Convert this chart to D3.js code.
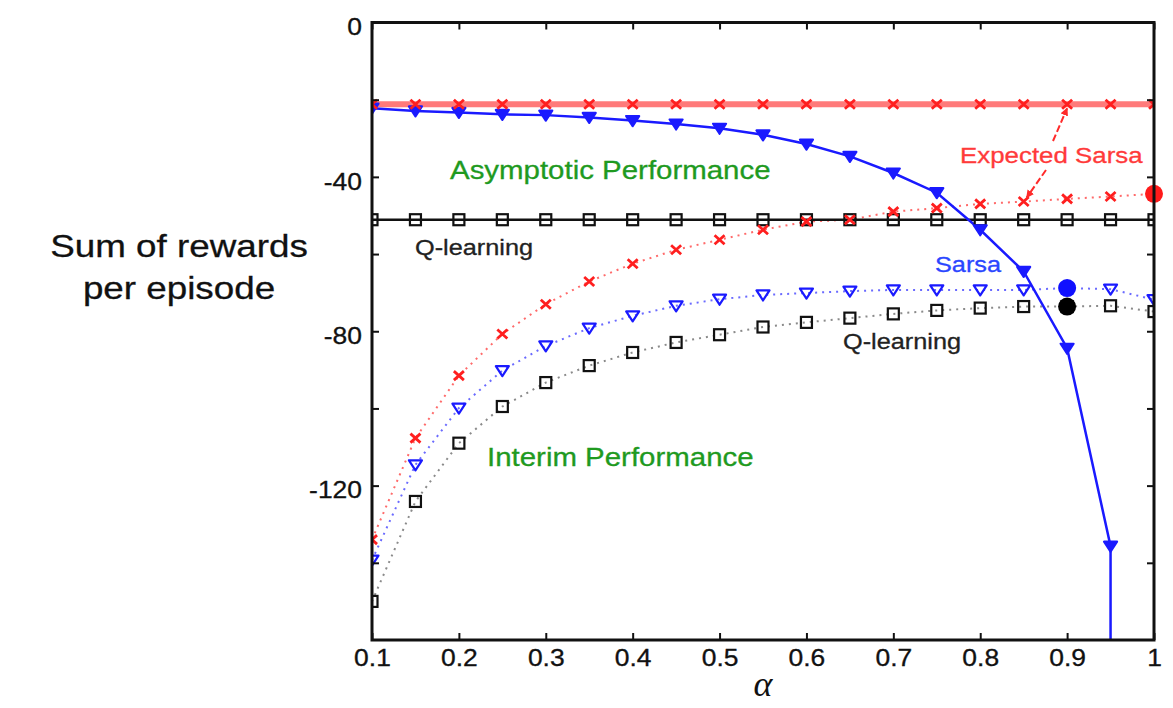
<!DOCTYPE html>
<html>
<head>
<meta charset="utf-8">
<script src="https://cdn.jsdelivr.net/npm/d3@7"></script>
<style>
  html, body { margin: 0; padding: 0; background: #fff; }
  svg { display: block; font-family: "Liberation Sans", Arial, Helvetica, sans-serif; }
</style>
</head>
<body>
<script>
(function () {

  // step sizes (alpha)
  let alphas = [0.1, 0.15, 0.2, 0.25, 0.3, 0.35, 0.4, 0.45, 0.5, 0.55,
                0.6, 0.65, 0.7, 0.75, 0.8, 0.85, 0.9, 0.95, 1.0];

  // asymptotic performance (solid lines)
  let expSarsaAsym = [-21.2, -21.2, -21.2, -21.2, -21.2, -21.2, -21.2, -21.2, -21.2, -21.2,
                      -21.2, -21.2, -21.2, -21.2, -21.2, -21.2, -21.2, -21.2, -21.2];
  let sarsaAsym    = [-22.2, -22.9, -23.3, -23.8, -24.0, -24.6, -25.4, -26.3, -27.4, -29.1,
                      -31.5, -34.7, -39.0, -44.1, -53.7, -64.5, -84.4, -135.7];
  let qAsym        = [-51.1, -51.1, -51.1, -51.1, -51.1, -51.1, -51.1, -51.1, -51.1, -51.1,
                      -51.1, -51.1, -51.1, -51.1, -51.1, -51.1, -51.1, -51.1, -51.1];

  // interim performance (dotted lines)
  let expSarsaInt = [-134.0, -107.7, -91.5, -80.7, -73.0, -67.1, -62.5, -58.9, -56.3, -53.7,
                     -51.6, -51.1, -49.0, -48.1, -47.0, -46.4, -45.7, -45.1, -44.4];
  let sarsaInt    = [-139.3, -114.6, -99.9, -90.2, -83.8, -79.2, -76.0, -73.4, -71.7, -70.6,
                     -70.1, -69.6, -69.3, -69.3, -69.3, -69.3, -68.8, -69.1, -71.8];
  let qInt        = [-150.0, -124.1, -109.0, -99.5, -93.3, -88.9, -85.5, -82.9, -80.9, -78.9,
                     -77.7, -76.6, -75.5, -74.6, -74.0, -73.6, -73.6, -73.4, -74.9];

  // highlighted points (filled circles)
  let highlights = [
    { alpha: 1.0, value: -44.4, color: '#ff1a1a' },
    { alpha: 0.9, value: -68.8, color: '#1010ff' },
    { alpha: 0.9, value: -73.6, color: '#000000' }
  ];

  let xTicks = [0.1, 0.2, 0.3, 0.4, 0.5, 0.6, 0.7, 0.8, 0.9, 1.0];
  let xTickLabels = ['0.1', '0.2', '0.3', '0.4', '0.5', '0.6', '0.7', '0.8', '0.9', '1'];
  let yTicks = [-140, -120, -100, -80, -60, -40, -20, 0];
  let yTickLabels = { '-120': '-120', '-80': '-80', '-40': '-40', '0': '0' };

  let width = 1173, height = 708;
  let plot = { left: 372, right: 1154, top: 22.5, bottom: 640 };
  let sx = 1.15; // text in the original is stretched horizontally

  let x = d3.scaleLinear().domain([0.1, 1.0]).range([plot.left, plot.right]);
  let y = d3.scaleLinear().domain([-160, 0]).range([plot.bottom, plot.top]);

  let svg = d3.select('body').append('svg')
      .attr('width', width)
      .attr('height', height);

  let defs = svg.append('defs');
  defs.append('clipPath').attr('id', 'plotclip')
    .append('rect')
      .attr('x', plot.left).attr('y', plot.top)
      .attr('width', plot.right - plot.left)
      .attr('height', plot.bottom - plot.top);

  defs.append('marker')
      .attr('id', 'arrowhead')
      .attr('viewBox', '0 0 10 10')
      .attr('refX', 9).attr('refY', 5)
      .attr('markerWidth', 4).attr('markerHeight', 4)
      .attr('orient', 'auto')
    .append('path')
      .attr('d', 'M0,0 L10,5 L0,10 Z')
      .attr('fill', '#ff2a2a');

  function label(text, px, py, size, color, anchor) {
    svg.append('text')
      .attr('transform', 'translate(' + px + ',' + py + ') scale(' + sx + ',1)')
      .attr('text-anchor', anchor || 'start')
      .attr('font-size', size)
      .attr('fill', color)
      .attr('stroke', color)
      .attr('stroke-width', 0.3)
      .text(text);
  }

  function series(values) {
    return values.map(function (v, i) { return { a: alphas[i], v: v }; });
  }

  let line = d3.line()
      .x(function (d) { return x(d.a); })
      .y(function (d) { return y(d.v); });

  let g = svg.append('g').attr('clip-path', 'url(#plotclip)');

  // dotted interim curves
  function dotted(values, color) {
    g.append('path')
      .datum(series(values))
      .attr('d', line)
      .attr('fill', 'none')
      .attr('stroke', color)
      .attr('stroke-width', 2)
      .attr('stroke-dasharray', '2,5');
  }
  dotted(qInt, '#8a8a8a');
  dotted(sarsaInt, '#6a6aff');
  dotted(expSarsaInt, '#ff6a6a');

  // solid asymptotic curves
  g.append('path')
    .datum(series(qAsym))
    .attr('d', line)
    .attr('fill', 'none').attr('stroke', '#111').attr('stroke-width', 2.5);

  g.append('path')
    .datum(series(expSarsaAsym))
    .attr('d', line)
    .attr('fill', 'none').attr('stroke', '#ff7a7a').attr('stroke-width', 6);

  let sarsaPts = series(sarsaAsym);
  let lastSarsa = sarsaPts[sarsaPts.length - 1];
  g.append('path')
    .datum(sarsaPts.concat([{ a: lastSarsa.a, v: y.domain()[0] }]))
    .attr('d', line)
    .attr('fill', 'none').attr('stroke', '#1a1aff').attr('stroke-width', 2.5);

  // markers
  function squares(values) {
    g.selectAll(null).data(series(values)).enter()
      .append('rect')
      .attr('x', function (d) { return x(d.a) - 5.5; })
      .attr('y', function (d) { return y(d.v) - 5.5; })
      .attr('width', 11).attr('height', 11)
      .attr('fill', 'none')
      .attr('stroke', '#111').attr('stroke-width', 2.2);
  }

  function triangles(values, fill) {
    g.selectAll(null).data(series(values)).enter()
      .append('path')
      .attr('transform', function (d) { return 'translate(' + x(d.a) + ',' + y(d.v) + ')'; })
      .attr('d', 'M-6.5,-4.5 L6.5,-4.5 L0,5.5 Z')
      .attr('fill', fill)
      .attr('stroke', '#1a1aff').attr('stroke-width', 2.2).attr('stroke-linejoin', 'round');
  }

  function crosses(values) {
    g.selectAll(null).data(series(values)).enter()
      .append('path')
      .attr('transform', function (d) { return 'translate(' + x(d.a) + ',' + y(d.v) + ')'; })
      .attr('d', 'M-5,-4.5 L5,4.5 M-5,4.5 L5,-4.5')
      .attr('stroke', '#ff1f1f').attr('stroke-width', 2.8);
  }

  squares(qInt);
  squares(qAsym);
  triangles(sarsaInt, 'none');
  triangles(sarsaAsym, '#1a1aff');
  crosses(expSarsaInt);
  crosses(expSarsaAsym);

  svg.selectAll('circle.highlight').data(highlights).enter()
    .append('circle')
    .attr('class', 'highlight')
    .attr('cx', function (d) { return x(d.alpha); })
    .attr('cy', function (d) { return y(d.value); })
    .attr('r', 9)
    .attr('fill', function (d) { return d.color; });

  // axes (ticks point inward)
  let fmtX = function (d) { return xTickLabels[xTicks.indexOf(d)]; };
  let fmtY = function (d) { return yTickLabels[String(d)] || ''; };

  let axB = svg.append('g')
      .attr('transform', 'translate(0,' + plot.bottom + ')')
      .call(d3.axisBottom(x).tickValues(xTicks).tickFormat(fmtX)
            .tickSizeInner(-7).tickSizeOuter(0).tickPadding(10));
  axB.selectAll('text').attr('transform', 'scale(' + sx + ',1)');

  svg.append('g')
      .attr('transform', 'translate(0,' + plot.top + ')')
      .call(d3.axisTop(x).tickValues(xTicks).tickFormat('')
            .tickSizeInner(-7).tickSizeOuter(0));

  let axL = svg.append('g')
      .attr('transform', 'translate(' + plot.left + ',0)')
      .call(d3.axisLeft(y).tickValues(yTicks).tickFormat(fmtY)
            .tickSizeInner(-7).tickSizeOuter(0).tickPadding(10));
  axL.selectAll('text').attr('transform', 'translate(0,5) scale(' + sx + ',1)')
      .attr('x', -10 / sx);

  svg.append('g')
      .attr('transform', 'translate(' + plot.right + ',0)')
      .call(d3.axisRight(y).tickValues(yTicks).tickFormat('')
            .tickSizeInner(-7).tickSizeOuter(0));

  svg.selectAll('.domain').remove();
  svg.selectAll('.tick line').attr('stroke', '#111').attr('stroke-width', 2);
  svg.selectAll('.tick text').attr('font-size', 23).attr('fill', '#111')
      .attr('stroke', '#111').attr('stroke-width', 0.3)
      .attr('font-family', '"Liberation Sans", Arial, Helvetica, sans-serif');

  svg.append('rect')
    .attr('x', plot.left).attr('y', plot.top)
    .attr('width', plot.right - plot.left)
    .attr('height', plot.bottom - plot.top)
    .attr('fill', 'none').attr('stroke', '#111').attr('stroke-width', 3);

  // annotations
  label('Asymptotic Performance', 450, 179, 25.6, '#1f9a1f');
  label('Interim Performance', 487, 466, 25.6, '#1f9a1f');
  label('Expected Sarsa', 960, 163, 22.5, '#ff3a3a');
  label('Sarsa', 935, 272, 22, '#2a46ff');
  label('Q-learning', 415, 255, 22, '#222');
  label('Q-learning', 843, 349, 22, '#222');

  label('Sum of rewards', 179, 257, 32, '#111', 'middle');
  label('per episode', 179, 299, 32, '#111', 'middle');

  svg.append('text')
    .attr('x', 763).attr('y', 696)
    .attr('text-anchor', 'middle')
    .attr('font-family', '"Liberation Serif", "Times New Roman", serif')
    .attr('font-style', 'italic')
    .attr('font-size', 36)
    .attr('fill', '#111')
    .text('\u03b1');

  // arrows from "Expected Sarsa"
  svg.append('line')
    .attr('x1', 1053).attr('y1', 141).attr('x2', x(0.9)).attr('y2', y(-21.2) + 4)
    .attr('stroke', '#ff2a2a').attr('stroke-width', 2).attr('stroke-dasharray', '7,3')
    .attr('marker-end', 'url(#arrowhead)');
  svg.append('line')
    .attr('x1', 1046).attr('y1', 170).attr('x2', x(0.85) + 3).attr('y2', y(-46.4) - 4)
    .attr('stroke', '#ff2a2a').attr('stroke-width', 2).attr('stroke-dasharray', '7,3')
    .attr('marker-end', 'url(#arrowhead)');

})();
</script>
</body>
</html>
